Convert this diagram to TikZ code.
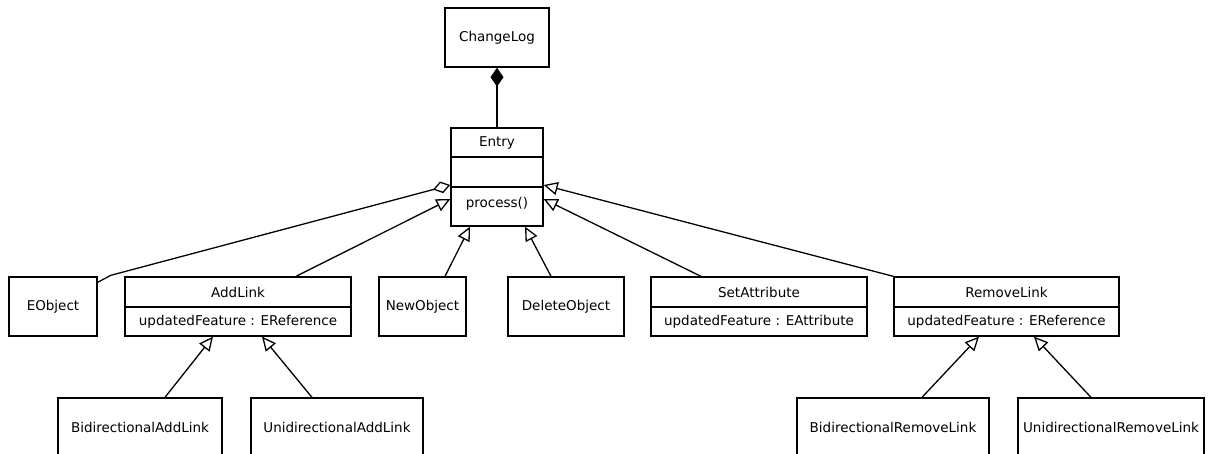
\documentclass[tikz,border=0pt]{standalone}
\usepackage{fontspec}
\setmainfont{DejaVu Sans}
\usetikzlibrary{arrows.meta}
\begin{document}
\begin{tikzpicture}[x=1pt,y=-1pt,
  umlfont/.style={font=\fontsize{13.5}{16}\selectfont},
  cls/.style={draw, line width=1.3pt, inner sep=0pt, minimum height=59pt, umlfont},
  lbl/.style={inner sep=0pt, umlfont},
  conn/.style={line width=1.3pt},
  gen/.style={conn, -{Triangle[open, length=14pt, width=13pt, line width=1.3pt]}},
  agg/.style={conn, -{Diamond[open, length=18pt, width=12pt, line width=1.3pt]}},
  comp/.style={conn, -{Diamond[length=19pt, width=13pt]}}]
\useasboundingbox (0,0) rectangle (1222,454);

% container and entry
\node[cls, minimum width=104pt] (changelog) at (497,37.5) {ChangeLog};
\node[cls, minimum width=92pt, minimum height=98pt] (entry) at (497,177) {};
\draw[line width=1.3pt] (451,157) -- (543,157) (451,187) -- (543,187);
\node[lbl] (entryname) at (497,142.5) {Entry};
\node[lbl] (entryop) at (497,204) {process()};

% first row of classes
\node[cls, minimum width=88pt] (eobject) at (53,306.5) {EObject};
\node[cls, minimum width=226pt] (addlink) at (238,306.5) {};
\draw[line width=1.3pt] (125,307) -- (351,307);
\node[lbl] (addlinkname) at (238,292) {AddLink};
\node[lbl] (addlinkattr) at (238,321.5) {updatedFeature : EReference};
\node[cls, minimum width=87pt] (newobject) at (422.5,306.5) {NewObject};
\node[cls, minimum width=116pt] (deleteobject) at (566,306.5) {DeleteObject};
\node[cls, minimum width=216pt] (setattribute) at (759,306.5) {};
\draw[line width=1.3pt] (651,307) -- (867,307);
\node[lbl] (setattributename) at (759,292) {SetAttribute};
\node[lbl] (setattributeattr) at (759,321.5) {updatedFeature : EAttribute};
\node[cls, minimum width=225pt] (removelink) at (1006.5,306.5) {};
\draw[line width=1.3pt] (894,307) -- (1119,307);
\node[lbl] (removelinkname) at (1006.5,292) {RemoveLink};
\node[lbl] (removelinkattr) at (1006.5,321.5) {updatedFeature : EReference};

% second row of classes
\node[cls, minimum width=164pt] (bidiadd) at (140,427.5) {BidirectionalAddLink};
\node[cls, minimum width=172pt] (uniadd) at (337,427.5) {UnidirectionalAddLink};
\node[cls, minimum width=192pt] (bidirem) at (893,427.5) {BidirectionalRemoveLink};
\node[cls, minimum width=186pt] (unirem) at (1111,427.5) {UnidirectionalRemoveLink};

% composition
\draw[comp] (entry.north) -- (changelog.south);

% associations and generalizations towards Entry
\draw[agg] ([yshift=-6pt]eobject.north east) -- ++(13,-7) -- ([yshift=-8pt]entry.west);
\draw[gen] ([xshift=58pt]addlink.north) -- ([yshift=-22pt]entry.west);
\draw[gen] ([xshift=22.5pt]newobject.north) -- ([xshift=-27pt]entry.south);
\draw[gen] ([xshift=-15pt]deleteobject.north) -- ([xshift=28pt]entry.south);
\draw[gen] ([xshift=-58pt]setattribute.north) -- ([yshift=-22pt]entry.east);
\draw[gen] (removelink.north west) -- ([yshift=-8pt]entry.east);

% subclasses of AddLink and RemoveLink
\draw[gen] ([xshift=25pt]bidiadd.north) -- ([xshift=-25pt]addlink.south);
\draw[gen] ([xshift=-25pt]uniadd.north) -- ([xshift=24pt]addlink.south);
\draw[gen] ([xshift=29pt]bidirem.north) -- ([xshift=-27.5pt]removelink.south);
\draw[gen] ([xshift=-20pt]unirem.north) -- ([xshift=27.5pt]removelink.south);
\end{tikzpicture}
\end{document}
